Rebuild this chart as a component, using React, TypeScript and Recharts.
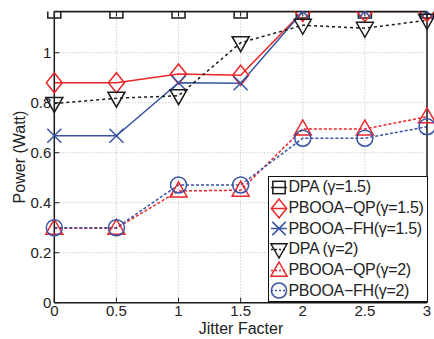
import React from 'react';
import { LineChart, Line, XAxis, YAxis, CartesianGrid } from 'recharts';

const jitter = [0, 0.5, 1, 1.5, 2, 2.5, 3];
const dpa15 = [1.165, 1.165, 1.165, 1.165, 1.165, 1.165, 1.165];
const qp15 = [0.88, 0.88, 0.915, 0.91, 1.165, 1.165, 1.165];
const fh15 = [0.668, 0.668, 0.88, 0.878, 1.165, 1.165, 1.165];
const dpa2 = [0.797, 0.818, 0.828, 1.04, 1.11, 1.098, 1.13];
const qp2 = [0.298, 0.298, 0.447, 0.45, 0.695, 0.695, 0.744];
const fh2 = [0.3, 0.3, 0.471, 0.471, 0.658, 0.658, 0.704];
const xTicks = [0, 0.5, 1, 1.5, 2, 2.5, 3];
const yTicks = [0, 0.2, 0.4, 0.6, 0.8, 1];
const yMax = 1.165;

const data = jitter.map((j, i) => ({
  x: j,
  dpa15: dpa15[i],
  qp15: qp15[i],
  fh15: fh15[i],
  dpa2: dpa2[i],
  qp2: qp2[i],
  fh2: fh2[i],
}));

const RED = '#ec2528';
const BLUE = '#3a53a4';
const BLACK = '#1a1a1a';
const FONT = '"Liberation Sans", Arial, Helvetica, sans-serif';

type Kind = 'square' | 'diamond' | 'x' | 'tdown' | 'tup' | 'circle';

const markerShape = (kind: Kind, cx: number, cy: number, color: string, s = 1) => {
  const sw = 1.5;
  switch (kind) {
    case 'square':
      return <rect x={cx - 6.5 * s} y={cy - 6.5 * s} width={13 * s} height={13 * s} fill="none" stroke={color} strokeWidth={sw} />;
    case 'diamond':
      return <polygon points={`${cx},${cy - 10 * s} ${cx + 8 * s},${cy} ${cx},${cy + 10 * s} ${cx - 8 * s},${cy}`} fill="none" stroke={color} strokeWidth={sw} />;
    case 'x':
      return (
        <g stroke={color} strokeWidth={sw}>
          <line x1={cx - 7 * s} y1={cy - 7 * s} x2={cx + 7 * s} y2={cy + 7 * s} />
          <line x1={cx - 7 * s} y1={cy + 7 * s} x2={cx + 7 * s} y2={cy - 7 * s} />
        </g>
      );
    case 'tdown':
      return <polygon points={`${cx - 8.5 * s},${cy - 6 * s} ${cx + 8.5 * s},${cy - 6 * s} ${cx},${cy + 9 * s}`} fill="none" stroke={color} strokeWidth={sw} />;
    case 'tup':
      return <polygon points={`${cx - 8.5 * s},${cy + 6 * s} ${cx + 8.5 * s},${cy + 6 * s} ${cx},${cy - 9 * s}`} fill="none" stroke={color} strokeWidth={sw} />;
    case 'circle':
      return <circle cx={cx} cy={cy} r={8 * s} fill="none" stroke={color} strokeWidth={sw} />;
  }
};

const makeDot = (kind: Kind, color: string) => (props: any) => {
  const { cx, cy, index } = props;
  return <g key={`${kind}-${index}`}>{markerShape(kind, cx, cy, color)}</g>;
};

const series: { key: string; name: string; color: string; kind: Kind; dash?: string }[] = [
  { key: 'dpa15', name: 'DPA (γ=1.5)', color: BLACK, kind: 'square' },
  { key: 'qp15', name: 'PBOOA−QP(γ=1.5)', color: RED, kind: 'diamond' },
  { key: 'fh15', name: 'PBOOA−FH(γ=1.5)', color: BLUE, kind: 'x' },
  { key: 'dpa2', name: 'DPA (γ=2)', color: BLACK, kind: 'tdown', dash: '3 3' },
  { key: 'qp2', name: 'PBOOA−QP(γ=2)', color: RED, kind: 'tup', dash: '3 2' },
  { key: 'fh2', name: 'PBOOA−FH(γ=2)', color: BLUE, kind: 'circle', dash: '3 2' },
];

const LegendBox = () => (
  <div
    style={{
      position: 'absolute',
      left: 267.5,
      top: 176,
      width: 160,
      height: 126,
      border: '1px solid #111',
      background: '#fff',
      boxSizing: 'border-box',
      fontFamily: FONT,
      fontSize: 16,
      letterSpacing: -0.3,
      color: '#222',
      paddingTop: 0,
    }}
  >
    {series.map((s) => (
      <div key={s.key} style={{ height: 20.7, display: 'flex', alignItems: 'center', whiteSpace: 'nowrap' }}>
        <svg width={20} height={21} style={{ flex: 'none' }}>
          <line x1={2} y1={10.5} x2={18} y2={10.5} stroke={s.color} strokeWidth={1.5} strokeDasharray={s.dash ? '2 2' : undefined} />
          {markerShape(s.kind, 10, 10.5, s.color, 0.95)}
        </svg>
        <span>{s.name}</span>
      </div>
    ))}
  </div>
);

const YLabel = () => (
  <text x={19} y={157} transform="rotate(-90 19 157)" textAnchor="middle" dominantBaseline="central" fontFamily={FONT} fontSize={16} fill="#222">
    Power (Watt)
  </text>
);

const XLabel = () => (
  <text x={241} y={328} textAnchor="middle" dominantBaseline="central" fontFamily={FONT} fontSize={16} fill="#222">
    Jitter Facter
  </text>
);

export default function App() {
  const tickStyle = { fontFamily: FONT, fontSize: 15, fill: '#222' };
  return (
    <div style={{ position: 'fixed', left: 0, top: 0, width: 434, height: 339, background: '#fff' }}>
      <LineChart width={434} height={339} data={data} margin={{ top: 0, right: 0, left: 0, bottom: 0 }}>
        <CartesianGrid stroke="#b8b8b8" strokeDasharray="1 2" horizontal vertical />
        <XAxis
          dataKey="x"
          type="number"
          domain={[0, 3]}
          ticks={xTicks}
          height={36.3}
          axisLine={{ stroke: BLACK, strokeWidth: 1.5 }}
          tickLine={{ stroke: BLACK }}
          tickSize={-5}
          tickMargin={8}
          tick={tickStyle}
          interval={0}
          label={<XLabel />}
        />
        <XAxis
          xAxisId="top"
          orientation="top"
          dataKey="x"
          type="number"
          domain={[0, 3]}
          ticks={xTicks}
          height={11.5}
          axisLine={{ stroke: BLACK, strokeWidth: 1.5 }}
          tickLine={{ stroke: BLACK }}
          tickSize={-5}
          tickFormatter={() => ''}
        />
        <YAxis
          type="number"
          domain={[0, yMax]}
          ticks={yTicks}
          width={54.3}
          axisLine={{ stroke: BLACK, strokeWidth: 1.5 }}
          tickLine={{ stroke: BLACK }}
          tickSize={-5}
          tickMargin={8}
          tick={tickStyle}
          interval={0}
          allowDataOverflow
          label={<YLabel />}
        />
        <YAxis
          yAxisId="right"
          orientation="right"
          type="number"
          domain={[0, yMax]}
          ticks={yTicks}
          width={7}
          axisLine={{ stroke: BLACK, strokeWidth: 1.5 }}
          tickLine={{ stroke: BLACK }}
          tickSize={-5}
          tickFormatter={() => ''}
        />
        {series.map((s) => (
          <Line
            key={s.key}
            dataKey={s.key}
            name={s.name}
            type="linear"
            stroke={s.color}
            strokeWidth={1.5}
            strokeDasharray={s.dash}
            dot={makeDot(s.kind, s.color)}
            activeDot={false}
            isAnimationActive={false}
          />
        ))}
      </LineChart>
      <LegendBox />
    </div>
  );
}
